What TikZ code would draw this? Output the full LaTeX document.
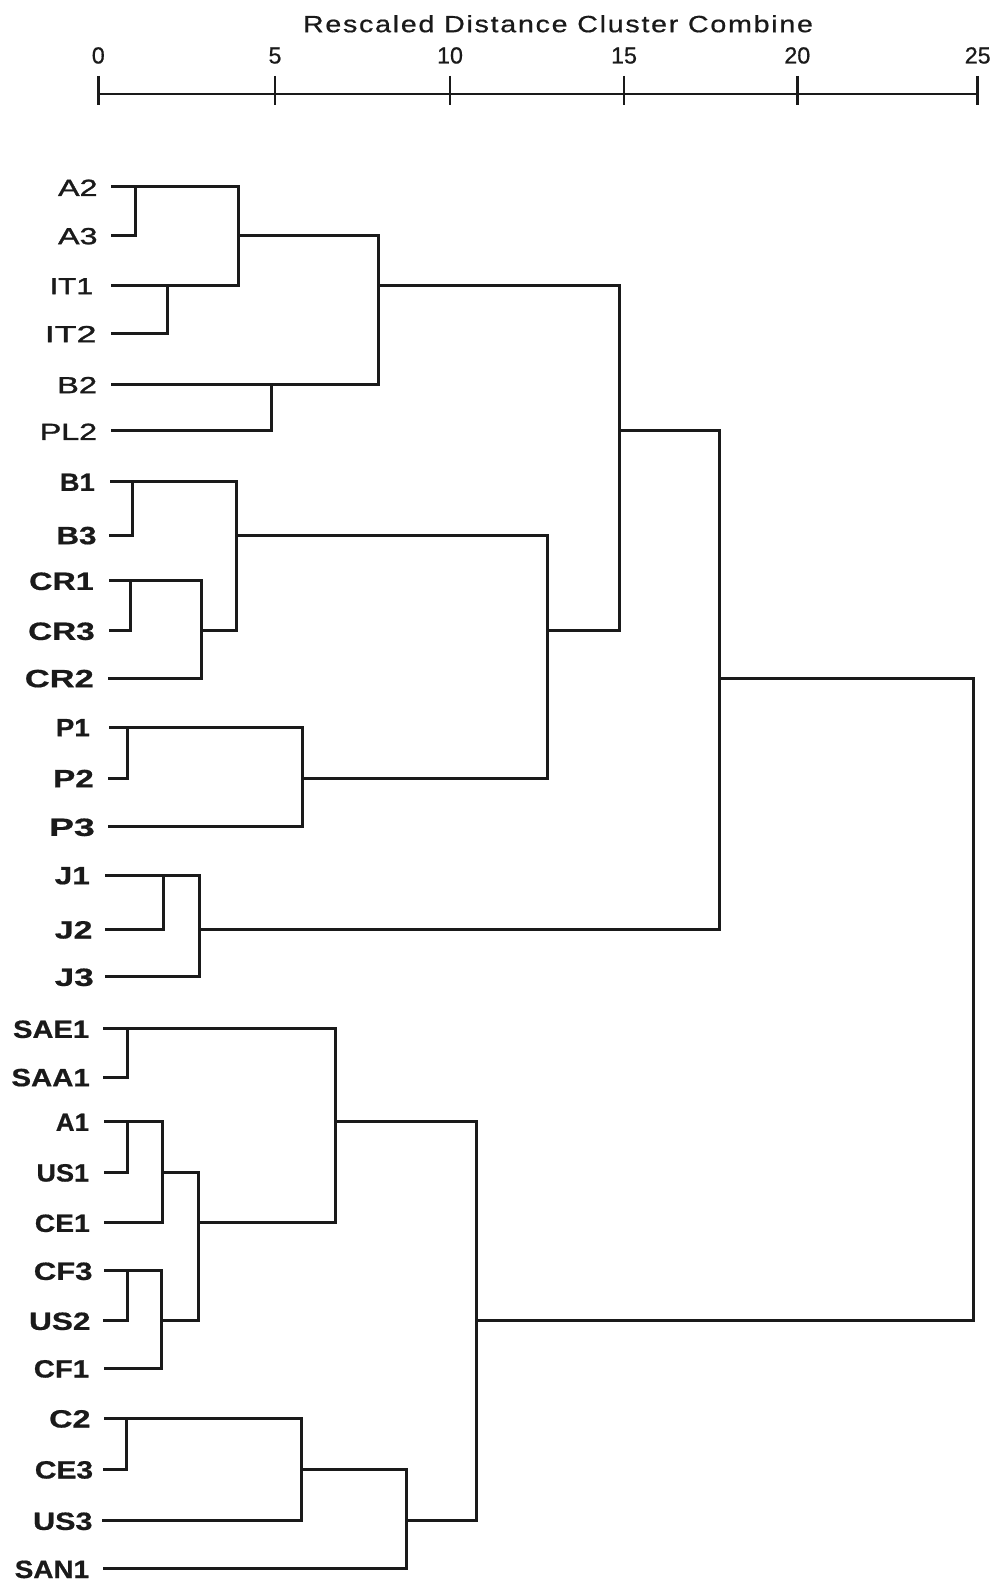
\documentclass[tikz,border=0pt]{standalone}
\usepackage{fontspec}
\usepackage{graphicx}
\setmainfont{Liberation Sans}
\newfontfamily\titlefont[LetterSpace=6,FakeBold=0.6]{Liberation Sans}
\newfontfamily\numfont[FakeBold=0.6]{Liberation Sans}
\newfontfamily\medfont[FakeBold=1.2]{Liberation Sans}
\newfontfamily\heavyfont[FakeBold=0.6]{Liberation Sans Bold}
\newcommand{\fitw}[2]{\resizebox{#1pt}{\height}{#2}}
\newcommand{\dmerge}[5]{%
  \coordinate (#1) at (#2,#3);
  \draw[dend] (#4) -- (#4 -| #1) -- (#5 -| #1) -- (#5);}
\definecolor{ink}{HTML}{1A1A1A}
\begin{document}
\begin{tikzpicture}[x=1pt,y=-1pt,
  dend/.style={draw=ink,line width=3pt,line join=miter},
  axisline/.style={draw=ink,line width=2.6pt},
  lab/.style={anchor=base east,inner sep=0pt,text=ink,font=\medfont\fontsize{23.3}{24}\selectfont},
  blab/.style={lab,font=\heavyfont\fontsize{25}{26}\selectfont},
  num/.style={anchor=base,inner sep=0pt,text=ink,font=\numfont\fontsize{23.3}{24}\selectfont}]
\fill[white] (0,0) rectangle (1000,1581);
\useasboundingbox (0,0) rectangle (1000,1581);

% title and axis
\node[anchor=base,inner sep=0pt,text=ink] (title) at (558,32.2)
  {\fitw{510}{\titlefont\fontsize{23.5}{25}\selectfont Rescaled Distance Cluster Combine}};
\foreach \v/\x in {0/98.3,5/275,10/450,15/624,20/797.3,25/977.7}{
  \coordinate (t\v) at (\x,94);
  \node[num] (n\v) at (\x,63.5) {\v};
  \draw[axisline] (\x,76) -- (\x,105);
}
\draw[axisline] (t0) -- (t25);

% leaves: name / line start x / row y / label right x / label width / style
\foreach \n/\sx/\y/\rx/\w/\st in {
  A2/111/186.7/97.7/39.4/lab,
  A3/111/235/97.7/39.4/lab,
  IT1/111/285/93.3/43.3/lab,
  IT2/111/333/96.7/51.7/lab,
  B2/111/384/97.3/40/lab,
  PL2/111/430.7/97.3/57.3/lab,
  B1/110/481.7/95/35/blab,
  B3/109/535/96.7/40/blab,
  CR1/109/580.7/94/64.7/blab,
  CR3/109/630.7/95/66.7/blab,
  CR2/108/678/94/69/blab,
  P1/109/727/90/34/blab,
  P2/108/778/94/40.7/blab,
  P3/108/826.7/95/45.7/blab,
  J1/105/875/90/35/blab,
  J2/105/929.3/92.7/37.7/blab,
  J3/105/976.7/94/39/blab,
  SAE1/103/1028.7/89.3/76/blab,
  SAA1/103/1077/90/78.3/blab,
  A1/104/1121.7/89.3/33.3/blab,
  US1/104/1172.3/89.3/52.6/blab,
  CE1/104/1222.7/90/55/blab,
  CF3/104/1270.7/92.7/58.7/blab,
  US2/103/1320.7/90.7/61.4/blab,
  CF1/104/1368.3/89.3/55.3/blab,
  C2/104/1418.3/90.7/41.4/blab,
  CE3/103/1469.3/93.3/58.3/blab,
  US3/102/1520.7/92.7/59.4/blab,
  SAN1/103/1568.8/89.3/74.3/blab}{
  \coordinate (\n-s) at (\sx,\y);
  \node[\st] (\n) at (\rx,\y+9.2) {\fitw{\w}{\n}};
}

% merges: name, joint x, output row y, upper child, lower child
\dmerge{m1}{135}{186.7}{A2-s}{A3-s}
\dmerge{m2}{167}{285}{IT1-s}{IT2-s}
\dmerge{m3}{238}{235}{m1}{m2}
\dmerge{m4}{271}{384}{B2-s}{PL2-s}
\dmerge{m5}{378}{285}{m3}{m4}
\dmerge{m6}{132.7}{481.7}{B1-s}{B3-s}
\dmerge{m7}{130.7}{580.7}{CR1-s}{CR3-s}
\dmerge{m8}{201}{630.7}{m7}{CR2-s}
\dmerge{m9}{236}{535}{m6}{m8}
\dmerge{m10}{127.7}{727}{P1-s}{P2-s}
\dmerge{m11}{302.7}{778}{m10}{P3-s}
\dmerge{m12}{547}{630.7}{m9}{m11}
\dmerge{m13}{619}{430.7}{m5}{m12}
\dmerge{m14}{163}{875}{J1-s}{J2-s}
\dmerge{m15}{199}{929.3}{m14}{J3-s}
\dmerge{m16}{719}{678}{m13}{m15}
\dmerge{m17}{127.7}{1028.7}{SAE1-s}{SAA1-s}
\dmerge{m18}{127.7}{1121.7}{A1-s}{US1-s}
\dmerge{m19}{162}{1172.3}{m18}{CE1-s}
\dmerge{m20}{127.7}{1270.7}{CF3-s}{US2-s}
\dmerge{m21}{161}{1320.7}{m20}{CF1-s}
\dmerge{m22}{198}{1222.7}{m19}{m21}
\dmerge{m23}{335}{1121.7}{m17}{m22}
\dmerge{m24}{126.7}{1418.3}{C2-s}{CE3-s}
\dmerge{m25}{301.7}{1469.3}{m24}{US3-s}
\dmerge{m26}{406.7}{1520.7}{m25}{SAN1-s}
\dmerge{m27}{476}{1320.7}{m23}{m26}
\dmerge{m28}{973}{1000}{m16}{m27}
\end{tikzpicture}
\end{document}
